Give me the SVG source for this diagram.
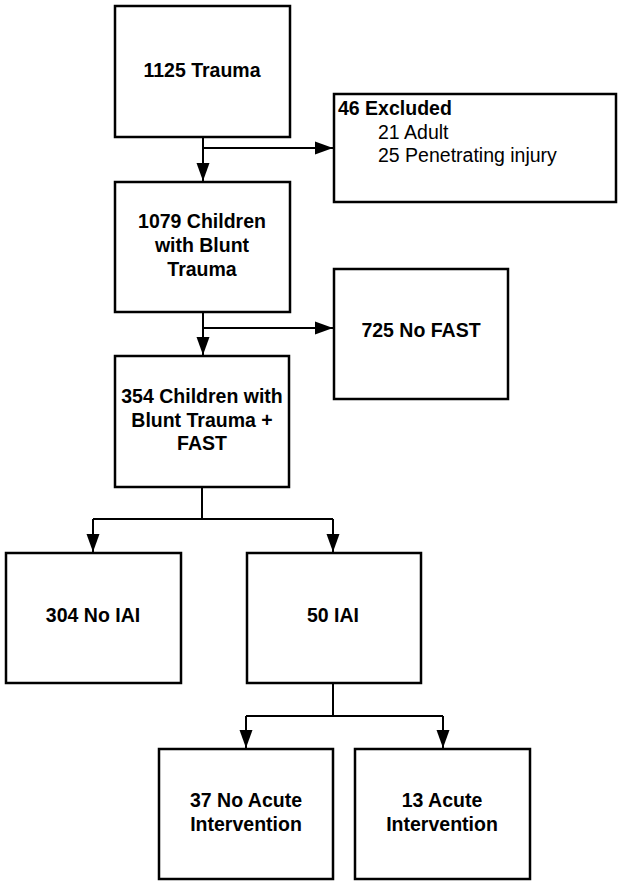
<svg xmlns="http://www.w3.org/2000/svg" width="622" height="884" viewBox="0 0 622 884">
<defs>
<marker id="arr" markerUnits="userSpaceOnUse" markerWidth="18" markerHeight="14" refX="18" refY="7" orient="auto">
<path d="M0,0.5 L18,7 L0,13.5 z" fill="#000"/>
</marker>
<style>
.box{fill:#fff;stroke:#000;stroke-width:2.5}
.c{fill:none;stroke:#000;stroke-width:2}
.t{font-family:"Liberation Sans",Arial,sans-serif;font-size:19.5px;font-weight:bold;fill:#000;text-anchor:middle}
.r{font-family:"Liberation Sans",Arial,sans-serif;font-size:19.5px;fill:#000}
</style>
</defs>
<rect width="622" height="884" fill="#fff"/>
<g id="connectors">
<path class="c" d="M203,137 V181" marker-end="url(#arr)"/>
<path class="c" d="M203,148 H333" marker-end="url(#arr)"/>
<path class="c" d="M203,312 V355" marker-end="url(#arr)"/>
<path class="c" d="M203,328 H333" marker-end="url(#arr)"/>
<path class="c" d="M202,487 V519 M93,519 H333"/>
<path class="c" d="M93,519 V552" marker-end="url(#arr)"/>
<path class="c" d="M333,519 V552" marker-end="url(#arr)"/>
<path class="c" d="M333,683 V716 M246,716 H443"/>
<path class="c" d="M246,716 V748" marker-end="url(#arr)"/>
<path class="c" d="M443,716 V748" marker-end="url(#arr)"/>
</g>
<g id="n1">
<rect class="box" x="115" y="6" width="175" height="131"/>
<text class="t" x="202" y="77">1125 Trauma</text>
</g>
<g id="n2">
<rect class="box" x="334" y="94" width="282" height="108"/>
<text class="r" x="338" y="115" font-weight="bold">46 Excluded</text>
<text class="r" x="378" y="138.5">21 Adult</text>
<text class="r" x="378" y="162">25 Penetrating injury</text>
</g>
<g id="n3">
<rect class="box" x="115" y="182" width="175" height="130"/>
<text class="t" x="202" y="228">1079 Children</text>
<text class="t" x="202" y="252">with Blunt</text>
<text class="t" x="202" y="275.5">Trauma</text>
</g>
<g id="n4">
<rect class="box" x="334" y="269" width="174" height="130"/>
<text class="t" x="421" y="337">725 No FAST</text>
</g>
<g id="n5">
<rect class="box" x="115" y="356" width="174" height="131"/>
<text class="t" x="202" y="403">354 Children with</text>
<text class="t" x="202" y="426.5">Blunt Trauma +</text>
<text class="t" x="202" y="450">FAST</text>
</g>
<g id="n6">
<rect class="box" x="6" y="553" width="175" height="130"/>
<text class="t" x="93" y="622">304 No IAI</text>
</g>
<g id="n7">
<rect class="box" x="247" y="553" width="174" height="130"/>
<text class="t" x="333" y="622">50 IAI</text>
</g>
<g id="n8">
<rect class="box" x="159" y="749" width="174" height="130"/>
<text class="t" x="246" y="807">37 No Acute</text>
<text class="t" x="246" y="830.5">Intervention</text>
</g>
<g id="n9">
<rect class="box" x="355" y="749" width="175" height="130"/>
<text class="t" x="442" y="807">13 Acute</text>
<text class="t" x="442" y="830.5">Intervention</text>
</g>
</svg>
